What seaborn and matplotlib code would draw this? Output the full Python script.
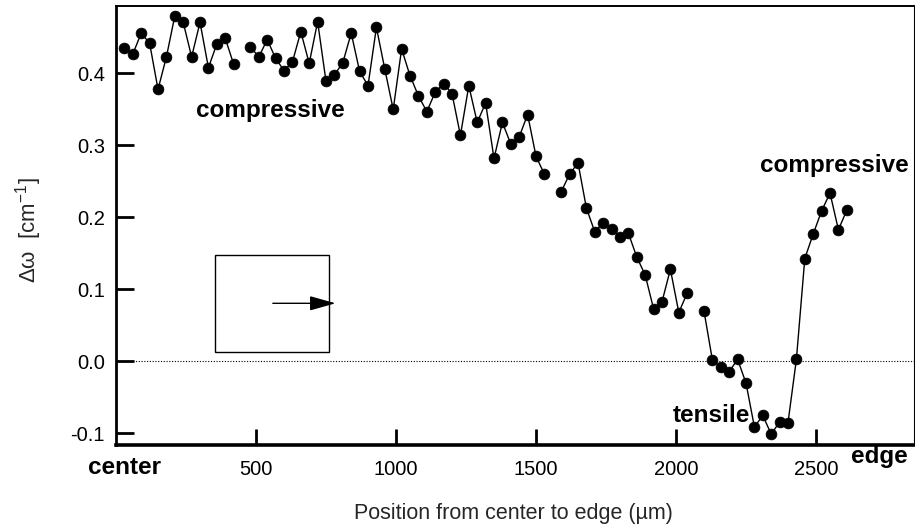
import numpy as np
import pandas as pd
import matplotlib
matplotlib.use("Agg")
import matplotlib.pyplot as plt
from matplotlib.patches import Rectangle
import seaborn as sns

# ---- data ----
position = [30, 60, 90, 120, 150, 180, 210, 240, 270, 300, 330, 360, 390, 420,
            450, 480, 510, 540, 570, 600, 630, 660, 690, 720, 750, 780, 810, 840,
            870, 900, 930, 960, 990, 1020, 1050, 1080, 1110, 1140, 1170, 1200,
            1230, 1260, 1290, 1320, 1350, 1380, 1410, 1440, 1470, 1500, 1530,
            1560, 1590, 1620, 1650, 1680, 1710, 1740, 1770, 1800, 1830, 1860,
            1890, 1920, 1950, 1980, 2010, 2040, 2070, 2100, 2130, 2160, 2190,
            2220, 2250, 2280, 2310, 2340, 2370, 2400, 2430, 2460, 2490, 2520,
            2550, 2580, 2610]
delta_omega = [0.436, 0.427, 0.456, 0.442, 0.378, 0.423, 0.480, 0.471, 0.423,
               0.471, 0.408, 0.441, 0.449, 0.413,
               np.nan, 0.437, 0.423, 0.447, 0.421, 0.404, 0.416, 0.458, 0.414,
               0.472, 0.389, 0.398, 0.415, 0.456, 0.403, 0.383, 0.464, 0.406,
               0.350, 0.434, 0.397, 0.369, 0.347, 0.374, 0.386, 0.372, 0.314,
               0.383, 0.332, 0.359, 0.282, 0.332, 0.302, 0.312, 0.343, 0.285,
               0.260,
               np.nan, 0.236, 0.260, 0.276, 0.213, 0.180, 0.193, 0.184, 0.173,
               0.178, 0.145, 0.120, 0.073, 0.083, 0.128, 0.068, 0.095,
               np.nan, 0.070, 0.002, -0.008, -0.014, 0.003, -0.030, -0.091,
               -0.075, -0.101, -0.084, -0.085, 0.003, 0.143, 0.177, 0.209,
               0.234, 0.183, 0.210]
x_ticks = [500, 1000, 1500, 2000, 2500]
y_ticks = [-0.1, 0.0, 0.1, 0.2, 0.3, 0.4]
y_tick_labels = ["-0.1", "0.0", "0.1", "0.2", "0.3", "0.4"]

df = pd.DataFrame({"pos": position, "dw": delta_omega})
df["seg"] = df["dw"].isna().cumsum()
df = df.dropna()

# ---- style ----
sns.set_style("ticks")
plt.rcParams["font.family"] = ["Liberation Sans", "DejaVu Sans"]
plt.rcParams["mathtext.fontset"] = "custom"
plt.rcParams["mathtext.rm"] = "Liberation Sans"
plt.rcParams["mathtext.it"] = "Liberation Sans:italic"

fig = plt.figure(figsize=(9.15, 5.27), dpi=100)
ax = fig.add_axes([0.1268, 0.1556, 0.8721, 0.833])

ax.axhline(0, color="black", lw=0.8, ls=(0, (1, 1.5)), zorder=1)

sns.lineplot(data=df, x="pos", y="dw", units="seg", estimator=None,
             color="black", lw=1.0, marker="o", markersize=7.8,
             markeredgecolor="black", markeredgewidth=0.5, ax=ax, zorder=3)

ax.set_xlim(0, 2850)
ax.set_ylim(-0.116, 0.4937)
ax.set_xticks(x_ticks)
ax.set_xticklabels([str(t) for t in x_ticks])
ax.set_yticks(y_ticks)
ax.set_yticklabels(y_tick_labels)

ax.tick_params(axis="x", direction="in", length=11.5, width=2.0,
               labelsize=14.5, pad=11, colors="black")
ax.tick_params(axis="y", direction="in", length=13, width=2.0,
               labelsize=14.5, pad=8, colors="black")

for side, lw in [("left", 2.0), ("bottom", 2.6), ("top", 1.4), ("right", 0.8)]:
    ax.spines[side].set_visible(True)
    ax.spines[side].set_linewidth(lw)
    ax.spines[side].set_color("black")

ax.set_xlabel("Position from center to edge (\u00b5m)", fontsize=15.5)
ax.xaxis.set_label_coords(0.4975, -0.133)
ax.set_ylabel("\u0394\u03c9  [cm$^{-1}$]", fontsize=16)
ax.yaxis.set_label_coords(-0.09, 0.49)

bold = dict(fontsize=17.5, fontweight="bold", color="black")
ax.text(550, 0.340, "compressive", ha="center", va="baseline", **bold)
ax.text(2566, 0.2636, "compressive", ha="center", va="baseline", **bold)
ax.text(2125, -0.0836, "tensile", ha="center", va="baseline", **bold)
ax.text(32, -0.156, "center", ha="center", va="baseline", clip_on=False, **bold)
ax.text(2725, -0.141, "edge", ha="center", va="baseline", clip_on=False, **bold)

# inset sketch: box with arrow
ax.add_patch(Rectangle((354, 0.0136), 407, 0.1344, fill=False,
                       edgecolor="black", lw=1.0, zorder=2))
ax.annotate("", xy=(784, 0.0808), xytext=(560, 0.0808),
            arrowprops=dict(arrowstyle="-|>,head_length=1.6,head_width=0.45",
                            mutation_scale=10, color="black", lw=1.0,
                            shrinkA=0, shrinkB=0))

fig.savefig("out.png", dpi=100)
